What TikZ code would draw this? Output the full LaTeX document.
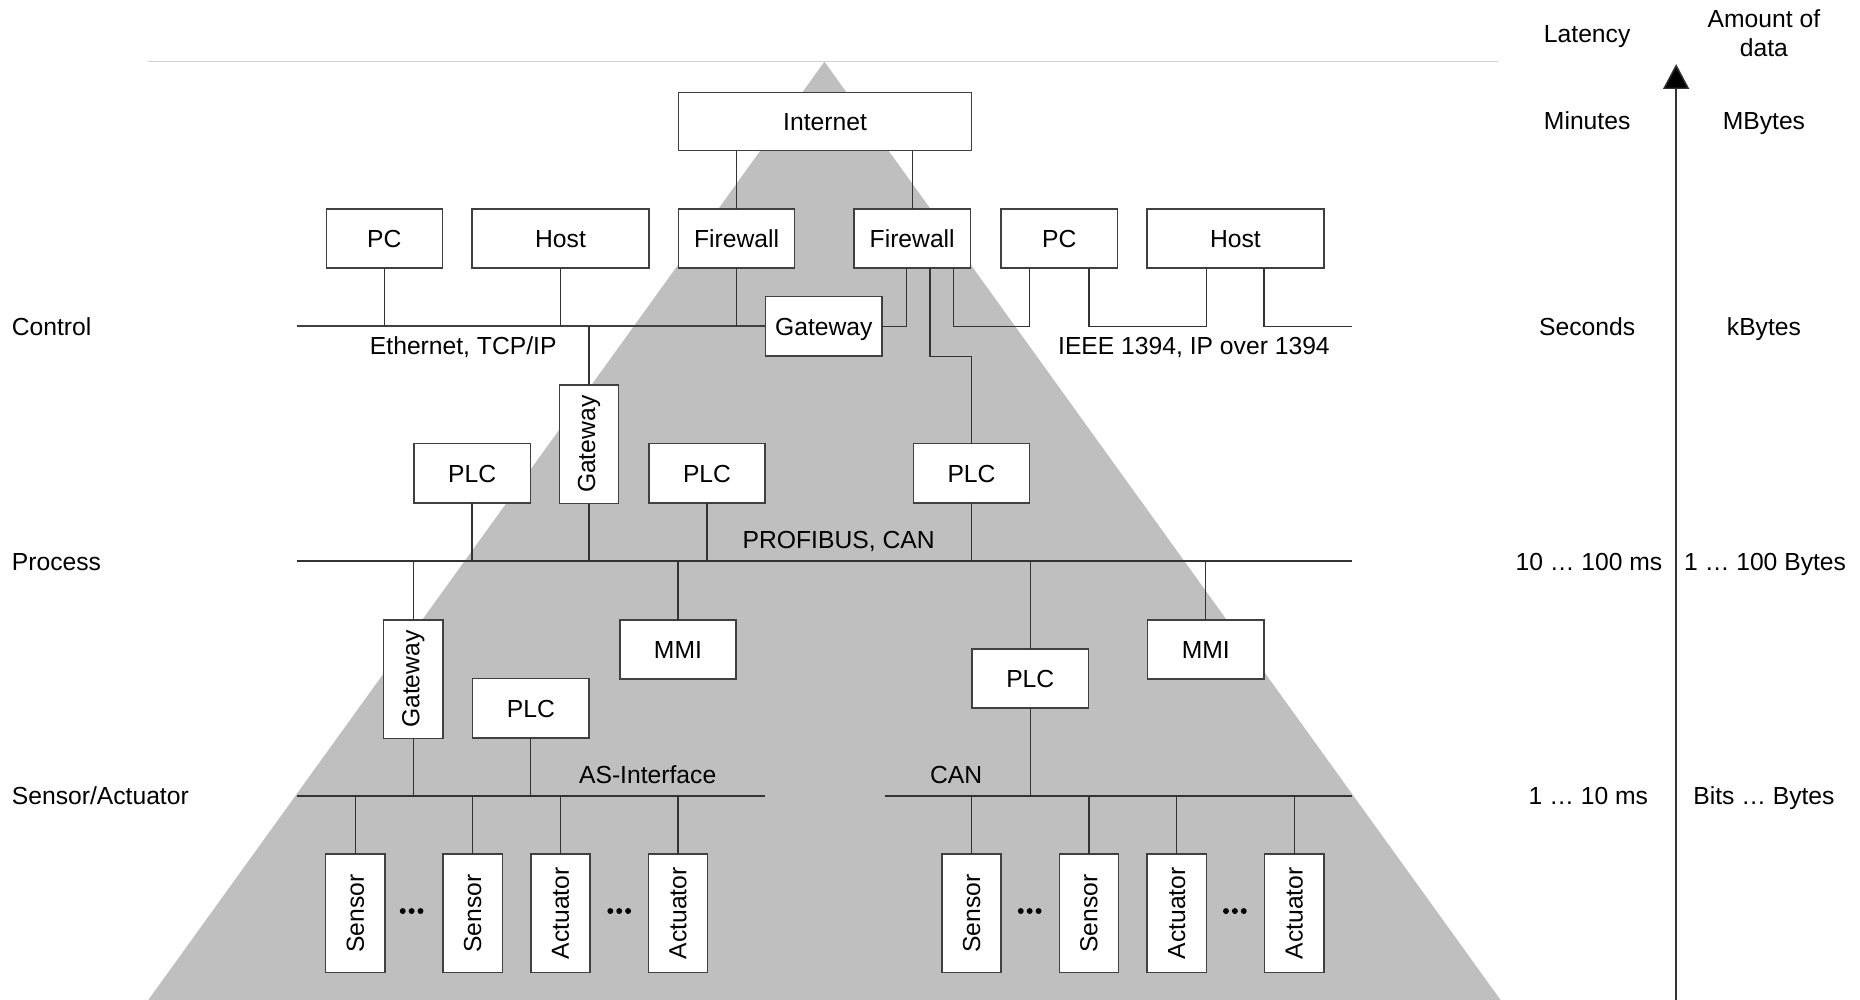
\documentclass[tikz,border=0pt]{standalone}
\usepackage{fontspec}
\usepackage{graphicx}
\setmainfont{Liberation Sans}
\usetikzlibrary{arrows.meta,calc}
\begin{document}
\begin{tikzpicture}[x=0.5pt,y=-0.5pt,
  every node/.style={font=\fontsize{10.4}{12.5}\selectfont, inner sep=0pt, outer sep=0pt},
  wire/.style={draw=black!80, line width=0.55pt},
  busline/.style={draw=black!80, line width=0.6pt},
  ethbus/.style={draw=black!75, line width=0.95pt},
  unitbox/.style={draw=black!75, fill=white, line width=0.6pt, rectangle},
  boxS/.style={unitbox, minimum width=49pt, minimum height=25pt, text height=7.5pt, text depth=0pt},
  boxW/.style={unitbox, minimum width=74.5pt, minimum height=25pt, text height=7.5pt, text depth=0pt},
  boxV/.style={unitbox, minimum width=25pt, minimum height=50pt},
  lbl/.style={text height=7.5pt, text depth=0pt},
]
\useasboundingbox (0,0) rectangle (1568,843);

% background pyramid and top rule
\fill[black!25] (695,52) -- (1265,843) -- (125,843) -- cycle;
\draw[black!18, line width=0.6pt] (125,52) -- (1263,52);

% ---------- control level ----------
\node[unitbox, minimum width=123.5pt, minimum height=24.5pt, text height=7.5pt, text depth=0pt] (inet) at (695.5,102.5) {Internet};
\node[boxS] (pc1)   at (324,201)    {PC};
\node[boxW] (host1) at (472.5,201)  {Host};
\node[boxS] (fw1)   at (621,201)    {Firewall};
\node[boxS] (fw2)   at (769,201)    {Firewall};
\node[boxS] (pc2)   at (893,201)    {PC};
\node[boxW] (host2) at (1041.5,201) {Host};
\node[boxS] (gwc)   at (694.5,275)  {Gateway};

\coordinate (ethL) at (250,275);
\coordinate (ieeeR) at (1140,275);

\draw[wire] (inet.south -| fw1.north) -- (fw1.north);
\draw[wire] (inet.south -| fw2.north) -- (fw2.north);

\draw[ethbus] (ethL) -- (gwc.west);
\draw[wire] (pc1.south) -- (pc1.south |- ethL);
\draw[wire] (host1.south) -- (host1.south |- ethL);
\draw[wire] (fw1.south) -- (fw1.south |- ethL);
\draw[wire] (gwc.east) -| ($(fw2.south)+(-5,0)$);

% IEEE 1394 daisy chain
\draw[wire] ($(fw2.south)+(35,0)$) -- ++(0,49) -| ($(pc2.south)+(-25,0)$);
\draw[wire] ($(pc2.south)+(25,0)$) -- ++(0,49) -| ($(host2.south)+(-24.5,0)$);
\draw[wire] ($(host2.south)+(24,0)$) |- (ieeeR);

\node[lbl] (ethlbl) at (390.5,291) {Ethernet, TCP/IP};
\node[lbl] (ieeelbl) at (1006.5,291) {IEEE 1394, IP over 1394};

% ---------- process level ----------
\node[boxV] (gwv1) at (496.5,374.5) {\rotatebox{90}{Gateway}};
\node[boxS] (plc1) at (398,399) {PLC};
\node[boxS] (plc2) at (596,399) {PLC};
\node[boxS] (plc3) at (819,399) {PLC};

\draw[wire] (gwv1.north) -- (gwv1.north |- ethL);
\draw[wire] ($(fw2.south)+(15,0)$) -- ++(0,74.7) -| (plc3.north);

\coordinate (procL) at (250,473);
\coordinate (procR) at (1140,473);
\draw[busline] (procL) -- (procR);
\node[lbl] (profilbl) at (707,455) {PROFIBUS, CAN};

\foreach \n in {plc1,gwv1,plc2,plc3}
  \draw[wire] (\n.south) -- (\n.south |- procL);

\node[boxV] (gwv2) at (348.5,572.5) {\rotatebox{90}{Gateway}};
\node[boxS] (mmi1) at (571.5,547.5) {MMI};
\node[boxS] (plc4) at (447.5,597) {PLC};
\node[boxS] (plc5) at (868.5,572) {PLC};
\node[boxS] (mmi2) at (1016.5,547.5) {MMI};

\foreach \n in {gwv2,mmi1,plc5,mmi2}
  \draw[wire] (\n.north) -- (\n.north |- procL);

% ---------- sensor/actuator level ----------
\coordinate (asL) at (250,671);
\coordinate (asR) at (645,671);
\coordinate (canL) at (746,671);
\coordinate (canR) at (1140,671);
\draw[busline] (asL) -- (asR);
\draw[busline] (canL) -- (canR);
\node[lbl] (aslbl) at (546,653) {AS-Interface};
\node[lbl] (canlbl) at (806,653) {CAN};

\draw[wire] (gwv2.south) -- (gwv2.south |- asL);
\draw[wire] (plc4.south) -- (plc4.south |- asL);
\draw[wire] (plc5.south) -- (plc5.south |- canL);

\node[boxV] (s1) at (299.5,770) {\rotatebox{90}{Sensor}};
\node[boxV] (s2) at (398.5,770) {\rotatebox{90}{Sensor}};
\node[boxV] (a1) at (472.5,770) {\rotatebox{90}{Actuator}};
\node[boxV] (a2) at (571.5,770) {\rotatebox{90}{Actuator}};
\node[boxV] (s3) at (819,770)   {\rotatebox{90}{Sensor}};
\node[boxV] (s4) at (918,770)   {\rotatebox{90}{Sensor}};
\node[boxV] (a3) at (992,770)   {\rotatebox{90}{Actuator}};
\node[boxV] (a4) at (1091,770)  {\rotatebox{90}{Actuator}};

\foreach \n in {s1,s2,a1,a2}
  \draw[wire] (\n.north) -- (\n.north |- asL);
\foreach \n in {s3,s4,a3,a4}
  \draw[wire] (\n.north) -- (\n.north |- canL);

% ellipsis dots between devices
\foreach \c in {347,522,868,1041}
  \foreach \d in {-7.5,0,7.5}
    \fill[black] (\c+\d,768) circle[radius=1.25pt];

% ---------- level names ----------
\node[lbl, anchor=west] (lvc) at (10,275) {Control};
\node[lbl, anchor=west] (lvp) at (10,473) {Process};
\node[lbl, anchor=west] (lvs) at (10,671) {Sensor/Actuator};

% ---------- latency / amount of data scale ----------
\coordinate (axB) at (1413,843);
\coordinate (axT) at (1413,54);
\draw[draw=black!80, line width=0.6pt, -{Triangle[width=11pt,length=10.5pt,fill=black]}] (axB) -- (axT);

\node[lbl] (hlat) at (1338,28) {Latency};
\node[align=center, font=\fontsize{10.4}{12}\selectfont] (hdat) at (1487,28) {Amount of\\data};

\node[lbl] (l1) at (1338,102) {Minutes};
\node[lbl] (d1) at (1487,102) {MBytes};
\node[lbl] (l2) at (1338,275) {Seconds};
\node[lbl] (d2) at (1487,275) {kBytes};
\node[lbl] (l3) at (1339.5,473) {10 … 100 ms};
\node[lbl] (d3) at (1488,473) {1 … 100 Bytes};
\node[lbl] (l4) at (1339,671) {1 … 10 ms};
\node[lbl] (d4) at (1487,671) {Bits … Bytes};
\end{tikzpicture}
\end{document}
